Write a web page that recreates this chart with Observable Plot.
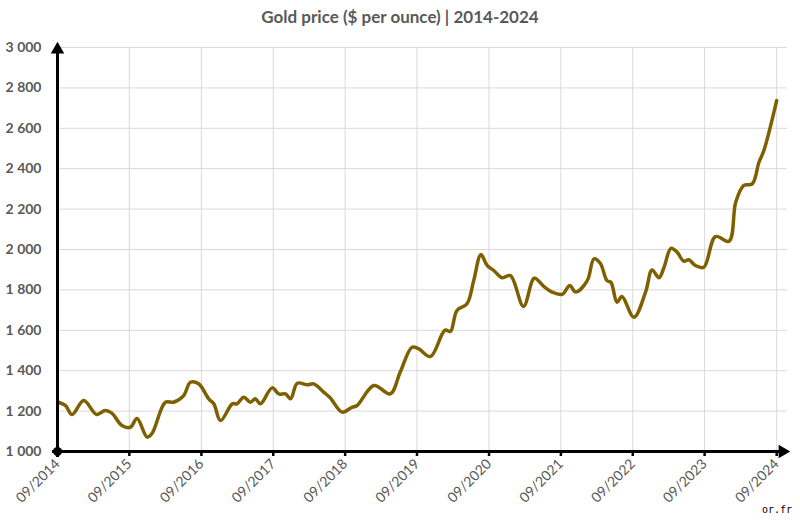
<!DOCTYPE html>
<html>
<head>
<meta charset="utf-8">
<script src="https://cdn.jsdelivr.net/npm/d3@7"></script>
<script src="https://cdn.jsdelivr.net/npm/@observablehq/plot@0.6"></script>
<style>
  body { margin: 0; background: #fff; font-family: Lato, "Liberation Sans", sans-serif; }
  #wrap { position: relative; width: 800px; height: 521px; }
  #title { height: 34px; line-height: 34px; text-align: center; font-weight: bold; font-size: 17px; color: #595959; }
  #credit { position: absolute; right: 8px; bottom: 6px; font-family: "DejaVu Sans Mono", monospace; font-size: 10px; color: #000; }
</style>
</head>
<body>
<div id="wrap">
  <div id="title">Gold price ($ per ounce) | 2014-2024</div>
  <div id="chart"></div>
  <div id="credit">or.fr</div>
</div>
<script>
const dates = [
  "2014-09-06","2014-10-11","2014-11-14","2015-01-12","2015-03-19","2015-05-01","2015-06-04","2015-07-25",
  "2015-09-06","2015-10-10","2015-11-30","2015-12-25","2016-03-02","2016-04-13","2016-06-03","2016-07-07",
  "2016-08-18","2016-10-08","2016-11-03","2016-12-07","2017-02-05","2017-03-01","2017-04-04","2017-05-08",
  "2017-06-02","2017-06-28","2017-08-26","2017-09-29","2017-11-02","2017-11-28","2018-01-01","2018-02-21",
  "2018-03-25","2018-05-15","2018-06-18","2018-08-16","2018-10-06","2018-11-01","2019-01-25","2019-04-18",
  "2019-06-08","2019-08-07","2019-09-10","2019-11-08","2020-01-07","2020-01-24","2020-02-18","2020-03-22",
  "2020-05-12","2020-06-15","2020-07-22","2020-08-22","2020-09-25","2020-11-07","2020-12-19","2021-02-23",
  "2021-04-19","2021-06-06","2021-07-18","2021-09-08","2021-10-16","2021-11-15","2022-01-13","2022-02-16",
  "2022-03-20","2022-04-23","2022-05-13","2022-06-13","2022-07-08","2022-09-07","2022-11-05","2022-12-08",
  "2023-01-12","2023-02-07","2023-03-14","2023-04-14","2023-05-18","2023-06-12","2023-07-16","2023-08-28",
  "2023-10-26","2024-01-03","2024-02-06","2024-03-18","2024-04-30","2024-06-03","2024-06-28","2024-09-01"
];
const prices = [
  1244,1228,1183,1252,1183,1203,1190,1129,
  1120,1163,1071,1089,1244,1244,1277,1343,
  1335,1261,1236,1153,1236,1236,1269,1244,
  1261,1236,1315,1285,1285,1261,1338,1330,
  1335,1294,1265,1195,1219,1228,1327,1285,
  1393,1516,1508,1470,1582,1602,1594,1698,
  1731,1846,1975,1921,1896,1860,1871,1718,
  1858,1817,1789,1778,1822,1789,1846,1954,
  1932,1846,1838,1739,1767,1665,1789,1899,
  1860,1912,2006,1987,1942,1949,1921,1912,
  2064,2041,2234,2317,2325,2432,2490,2737
];
const xTickLabels = ["09/2014","09/2015","09/2016","09/2017","09/2018","09/2019","09/2020","09/2021","09/2022","09/2023","09/2024"];
const yTicks = [1000,1200,1400,1600,1800,2000,2200,2400,2600,2800,3000];

const parse = d3.utcParse("%Y-%m-%d");
const data = dates.map((d, i) => ({date: parse(d), price: prices[i]}));
const xTicks = xTickLabels.map(s => d3.utcParse("%m/%Y")(s));
const xStart = xTicks[0];
const xEnd = parse("2024-10-26");
const yMin = yTicks[0], yMax = yTicks[yTicks.length - 1];
const fmtY = d => d3.format(",")(d).replace(",", " ");

const chart = Plot.plot({
  width: 800,
  height: 487,
  marginTop: 13,
  marginBottom: 70,
  marginLeft: 57,
  marginRight: 13,
  style: {fontFamily: "Lato, 'Liberation Sans', sans-serif", background: "white"},
  x: {type: "utc", domain: [xStart, xEnd], label: null},
  y: {domain: [yMin, yMax], label: null},
  marks: [
    Plot.gridY(yTicks.slice(1), {stroke: "#d9d9d9", strokeOpacity: 1, strokeWidth: 1}),
    Plot.gridX(xTicks.slice(1), {stroke: "#d9d9d9", strokeOpacity: 1, strokeWidth: 1}),
    Plot.axisY(yTicks, {label: null, tickSize: 0, tickPadding: 16, tickFormat: fmtY, fontSize: 14, fontWeight: "bold", fill: "#595959"}),
    Plot.axisX(xTicks, {label: null, tickSize: 5, strokeWidth: 2.5, stroke: "black", tickFormat: () => ""}),
    Plot.axisX(xTicks, {label: null, tickSize: 0, tickPadding: 10, tickRotate: -45, tickFormat: (d, i) => xTickLabels[i], fontSize: 14, fill: "#595959"}),
    Plot.line(data, {x: "date", y: "price", stroke: "#7f6000", strokeWidth: 3.5, curve: "catmull-rom"}),
    Plot.ruleY([yMin], {x1: xStart, x2: xEnd, stroke: "black", strokeWidth: 3, dx: -5}),
    Plot.ruleX([xStart], {y1: yMin, y2: yMax, stroke: "black", strokeWidth: 3, dy: 6}),
    Plot.dot([yMax], {x: () => xStart, y: d => d, symbol: "triangle", fill: "black", r: 5, dy: 2}),
    Plot.dot([yMin], {x: () => xEnd, y: d => d, symbol: "triangle", rotate: 90, fill: "black", r: 5, dx: -5}),
    Plot.dot([yMin], {x: () => xStart, y: d => d, fill: "black", r: 4.5})
  ]
});
document.getElementById("chart").appendChild(chart);
</script>
</body>
</html>
